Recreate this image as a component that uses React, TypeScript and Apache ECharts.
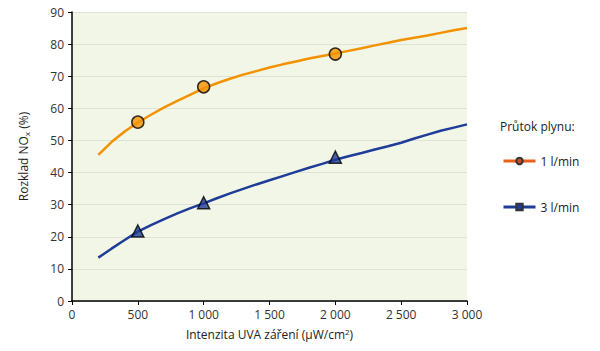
import React, { useEffect, useRef } from "react";
import * as echarts from "echarts";

const xValues = [200, 300, 400, 500, 600, 700, 800, 900, 1000, 1100, 1200, 1300, 1400, 1500, 1600, 1700, 1800, 1900, 2000, 2100, 2200, 2300, 2400, 2500, 2600, 2700, 2800, 2900, 3000];
const flow1 = [45.5, 49.5, 52.8, 55.6, 58.0, 60.3, 62.3, 64.3, 66.2, 67.8, 69.2, 70.5, 71.6, 72.7, 73.7, 74.6, 75.5, 76.3, 77.1, 77.9, 78.7, 79.6, 80.4, 81.3, 82.0, 82.7, 83.5, 84.3, 85.0];
const flow3 = [13.5, 16.3, 19.0, 21.6, 23.6, 25.5, 27.3, 28.9, 30.4, 32.0, 33.5, 34.9, 36.3, 37.6, 38.9, 40.2, 41.5, 42.7, 44.0, 45.1, 46.1, 47.2, 48.2, 49.3, 50.6, 51.8, 53.0, 54.0, 55.0];
const markX = [500, 1000, 2000];
const mark1 = [55.7, 66.7, 76.9];
const mark3 = [21.8, 30.6, 44.8];

const fmt = (v: number) => (v >= 1000 ? String(v).replace(/(\d)(\d{3})$/, "$1 $2") : String(v));

export default function App() {
  const ref = useRef<HTMLDivElement>(null);
  useEffect(() => {
    const chart = echarts.init(ref.current!, null, { renderer: "svg" });
    const font = "'Open Sans', 'Noto Sans', sans-serif";
    chart.setOption({
      animation: false,
      textStyle: { fontFamily: font },
      grid: { left: 72, right: 133, top: 12, bottom: 50, show: true, backgroundColor: "#f2f6e6", borderWidth: 0 },
      legend: {
        orient: "vertical",
        left: 497,
        top: 150,
        itemGap: 34,
        itemWidth: 32,
        itemHeight: 8,
        textStyle: { fontSize: 12, color: "#222", fontFamily: font },
        data: [
          { name: "1 l/min", itemStyle: { color: "#c8501c" }, lineStyle: { color: "#e8601c", width: 3 } },
          { name: "3 l/min", itemStyle: { color: "#1f3c99" }, lineStyle: { color: "#1f3c99", width: 3 } },
        ],
      },
      graphic: [
        { type: "text", left: 500, top: 120, style: { text: "Průtok plynu:", fontSize: 12, fill: "#222", fontFamily: font } },
      ],
      xAxis: {
        type: "value",
        min: 0,
        max: 3000,
        interval: 500,
        name: "Intenzita UVA záření (μW/cm{sup|2})",
        nameLocation: "middle",
        nameGap: 26,
        nameTextStyle: { fontSize: 12, color: "#222", rich: { sup: { fontSize: 8, verticalAlign: "top", padding: [0, 0, 6, 0] } } },
        axisLine: { lineStyle: { color: "#000", width: 1.5 } },
        axisTick: { show: true, inside: false, length: 4, lineStyle: { color: "#000" } },
        axisLabel: { fontSize: 12, color: "#333", formatter: fmt, margin: 7 },
        splitLine: { show: false },
      },
      yAxis: {
        type: "value",
        min: 0,
        max: 90,
        interval: 10,
        name: "Rozklad NO{sub|x} (%)",
        nameLocation: "middle",
        nameGap: 42,
        nameTextStyle: { fontSize: 12, color: "#222", rich: { sub: { fontSize: 8, verticalAlign: "bottom", padding: [6, 0, 0, 0] } } },
        axisLine: { show: true, lineStyle: { color: "#000", width: 1.5 } },
        axisTick: { show: true, inside: false, length: 4, lineStyle: { color: "#000" } },
        axisLabel: { fontSize: 12, color: "#333", margin: 8 },
        splitLine: { show: true, lineStyle: { color: "#dfe2d6", width: 1 } },
      },
      series: [
        {
          name: "1 l/min",
          type: "line",
          data: xValues.map((x, i) => [x, flow1[i]]),
          showSymbol: false,
          symbol: "circle",
          symbolSize: 7,
          lineStyle: { color: "#f39200", width: 2.5 },
          itemStyle: { color: "#f39200", borderColor: "#333", borderWidth: 1 },
          z: 3,
        },
        {
          name: "3 l/min",
          type: "line",
          data: xValues.map((x, i) => [x, flow3[i]]),
          showSymbol: false,
          symbol: "rect",
          symbolSize: 7,
          lineStyle: { color: "#1f3c99", width: 2.5 },
          itemStyle: { color: "#1f3c99", borderColor: "#333", borderWidth: 1 },
          z: 3,
        },
        {
          name: "m1",
          type: "scatter",
          data: markX.map((x, i) => [x, mark1[i]]),
          symbol: "circle",
          symbolSize: 12,
          itemStyle: { color: "#f39200", borderColor: "#000", borderWidth: 1.5 },
          z: 4,
        },
        {
          name: "m3",
          type: "scatter",
          data: markX.map((x, i) => [x, mark3[i]]),
          symbol: "triangle",
          symbolSize: 12,
          itemStyle: { color: "#1f3c99", borderColor: "#000", borderWidth: 1.5 },
          z: 4,
        },
      ],
    });
    return () => chart.dispose();
  }, []);
  return <div ref={ref} style={{ width: 600, height: 351, margin: -8 }} />;
}
